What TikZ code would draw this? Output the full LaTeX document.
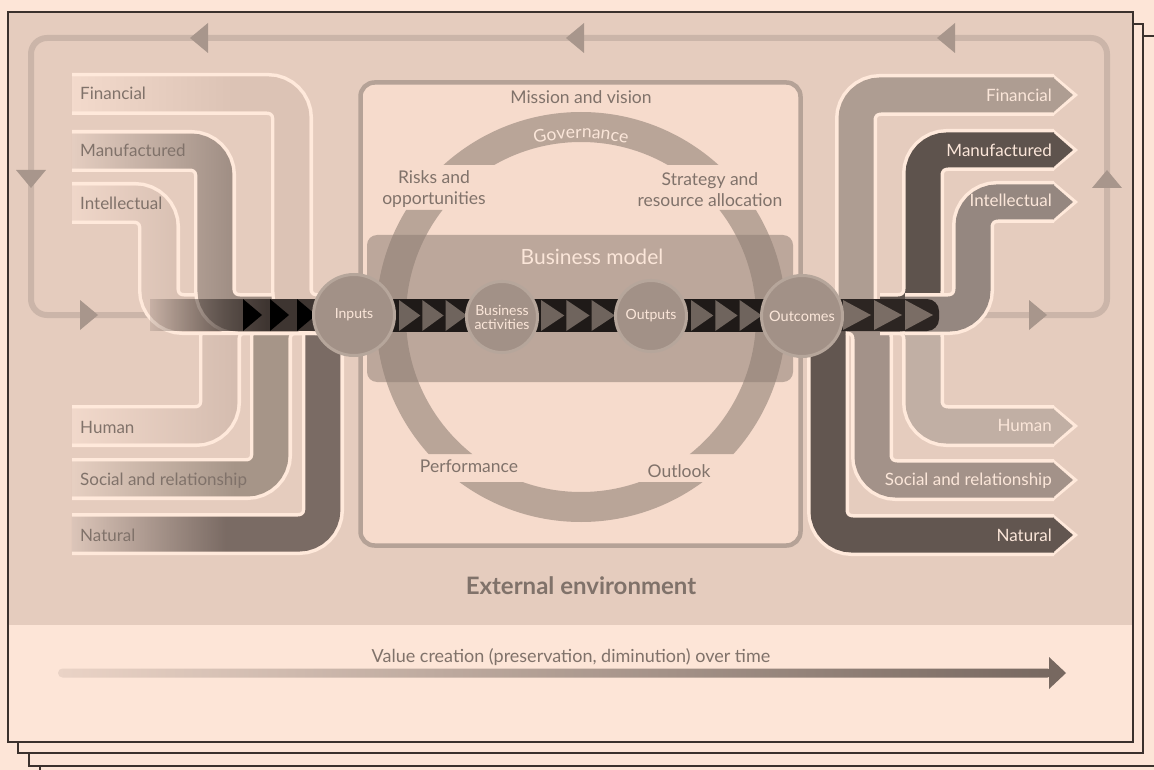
\documentclass[tikz,border=0pt]{standalone}
\usepackage{fontspec}
\setmainfont{Lato}
\usetikzlibrary{fadings,decorations.text}

\definecolor{paper}{HTML}{FDE5D7}
\definecolor{panel}{HTML}{E5CCBE}
\definecolor{edge}{HTML}{3B312D}
\definecolor{loopcol}{HTML}{CBB5A9}
\definecolor{looptip}{HTML}{A8968C}
\definecolor{boxfill}{HTML}{F6DBCC}
\definecolor{boxline}{HTML}{B5A297}
\definecolor{veil}{HTML}{8E7E74}
\definecolor{rimcol}{HTML}{FFE9DB}
\definecolor{flowlight}{HTML}{FAE1D3}
\definecolor{ink}{HTML}{80726A}
\definecolor{pale}{HTML}{FBE6D9}
\definecolor{stagefill}{HTML}{A29187}
\definecolor{stagehalo}{HTML}{B6A69B}
\definecolor{chain}{HTML}{1F1A18}
\definecolor{chaindark}{HTML}{2C2522}
\definecolor{chev}{HTML}{6F645D}
\definecolor{chevlight}{HTML}{7A6D65}
\definecolor{bandcol}{HTML}{3E3531}
\definecolor{finin}{HTML}{DCC3B5}
\definecolor{manuin}{HTML}{9E8D83}
\definecolor{intelin}{HTML}{CDB5A8}
\definecolor{humanin}{HTML}{D5BDB0}
\definecolor{socialin}{HTML}{A69588}
\definecolor{naturalin}{HTML}{7A6B64}
\definecolor{finout}{HTML}{AE9D92}
\definecolor{manout}{HTML}{5E534D}
\definecolor{intout}{HTML}{958780}
\definecolor{humout}{HTML}{C1AFA4}
\definecolor{socout}{HTML}{A39289}
\definecolor{natout}{HTML}{625650}
\definecolor{arrowpale}{HTML}{EAD3C6}
\definecolor{arrowdark}{HTML}{776860}

\pgfdeclarehorizontalshading{flowshade}{100bp}{color(0bp)=(black); color(20bp)=(black); color(55bp)=(white); color(100bp)=(white)}
\tikzfading[name=flowfade, shading=flowshade]

% capitals coming in: rim, light body, darkening towards the right
\newcommand\inflow[2]{%
  \draw[rim] #1;
  \draw[flow=flowlight] #1;
  \draw[flow=#2, path fading=flowfade] #1;}
% capitals going out, with a pointed end
\newcommand\outflow[3]{%
  \draw[rim] #1;
  \fill[rimcol] (1053,#2-21) -- (1078,#2) -- (1053,#2+21) -- cycle;
  \draw[flow=#3] #1;
  \fill[#3] (1053,#2-17.5) -- (1073,#2) -- (1053,#2+17.5) -- cycle;}

\begin{document}
\begin{tikzpicture}[x=1pt, y=-1pt,
    sheet/.style={fill=paper, draw=edge, line width=1.2pt},
    feedback/.style={draw=loopcol, line width=6pt, rounded corners=16pt},
    rim/.style={draw=rimcol, line width=42pt, rounded corners=24pt},
    flow/.style={draw=#1, line width=35pt, rounded corners=24pt},
    caplabel/.style={font=\fontsize{17}{18}\selectfont, inner sep=0pt},
    inlabel/.style={caplabel, text=ink, anchor=base west},
    outlabel/.style={caplabel, text=pale, anchor=base east},
    boxlabel/.style={font=\fontsize{17.5}{21}\selectfont, text=ink, align=center, inner sep=0pt},
    stage/.style={circle, fill=stagefill, draw=stagehalo, line width=3pt, text=pale,
      align=center, inner sep=0pt, font=\fontsize{14}{14}\selectfont}]
  \useasboundingbox (0,0) rectangle (1154,770);
  \fill[paper] (0,0) rectangle (1154,770);

  % stacked sheets
  \filldraw[sheet] (40,48) rectangle (1190,800);
  \filldraw[sheet] (29,36) rectangle (1170,766);
  \filldraw[sheet] (18,24) rectangle (1143,753);
  \filldraw[sheet] (8,12) rectangle (1133,742);
  \fill[panel] (8.6,12.6) rectangle (1132.4,625);

  % feedback loop
  \draw[feedback] (950,315) -- (1107,315) -- (1107,38) -- (31,38) -- (31,315) -- (165,315);
  \fill[looptip] (190,38) -- (208,23) -- (208,53) -- cycle;
  \fill[looptip] (566,38) -- (584,23) -- (584,53) -- cycle;
  \fill[looptip] (937,38) -- (955,23) -- (955,53) -- cycle;
  \fill[looptip] (31,188) -- (16,170) -- (46,170) -- cycle;
  \fill[looptip] (98,315) -- (80,300) -- (80,330) -- cycle;
  \fill[looptip] (1107,170) -- (1092,188) -- (1122,188) -- cycle;
  \fill[looptip] (1047,315) -- (1029,300) -- (1029,330) -- cycle;

  % organisation box and its ring
  \draw[line width=4.5pt, draw=boxline, fill=boxfill, rounded corners=14pt]
    (360.5,82.5) rectangle (800.5,545.5);
  \begin{scope}
    \clip (370,100) rectangle (795,165) (370,210) rectangle (795,454) (370,482) rectangle (795,530);
    \fill[veil, fill opacity=.58, even odd rule]
      (581,317) circle[radius=205] (581,317) circle[radius=175];
  \end{scope}
  \fill[veil, fill opacity=.55, rounded corners=10pt] (367,235) rectangle (793,382);
  \node[font=\fontsize{21}{21}\selectfont, text=pale, anchor=base, inner sep=0pt] (bm) at (592,265) {Business model};

  \node[boxlabel, anchor=base] (mission) at (581,104) {Mission and vision};
  \node[boxlabel] (risks) at (434,189) {Risks and\\opportunities};
  \node[boxlabel] (strategy) at (710,190) {Strategy and\\resource allocation};
  \node[boxlabel, anchor=base] (perf) at (469,472) {Performance};
  \node[boxlabel, anchor=base] (outlook) at (679,477) {Outlook};
  \path[decorate, decoration={text along path, text align=center,
      text={|\fontsize{17.5}{17.5}\selectfont\color{pale}|Governance}}]
    (581,317) ++(-118:179) arc[start angle=-118, end angle=-62, radius=179];

  % capitals in
  \inflow{(72,426) -- (220,426) -- (220,314) -- (340,314)}{humanin}
  \inflow{(72,479) -- (271,479) -- (271,314) -- (340,314)}{socialin}
  \inflow{(72,534) -- (323,534) -- (323,300)}{naturalin}
  \inflow{(72,203) -- (159,203) -- (159,314) -- (340,314)}{intelin}
  \inflow{(72,151) -- (215,151) -- (215,314) -- (340,314)}{manuin}
  \inflow{(72,94) -- (292,94) -- (292,314) -- (340,314)}{finin}

  % capitals out
  \outflow{(828,320) -- (828,535) -- (1054,535)}{535}{natout}
  \outflow{(848,314) -- (872,314) -- (872,480) -- (1054,480)}{480}{socout}
  \outflow{(856,322) -- (856,95) -- (1054,95)}{95}{finout}
  \outflow{(880,314) -- (923,314) -- (923,426) -- (1054,426)}{426}{humout}
  \outflow{(880,314) -- (923,314) -- (923,150) -- (1054,150)}{150}{manout}
  \outflow{(905,314) -- (973,314) -- (973,202) -- (1054,202)}{202}{intout}

  % value chain
  \coordinate (in) at (354,315);
  \coordinate (act) at (502,317);
  \coordinate (outp) at (651,316);
  \coordinate (outc) at (802,316);

  \fill[bandcol, path fading=flowfade] (150,299) rectangle (345,331);
  \foreach \x in {243,270,297}
    \fill[black] (\x,299) -- (\x+19,315) -- (\x,331) -- cycle;

  \fill[chain] ([yshift=16pt]in) rectangle ([yshift=-16pt]outc);
  \foreach \x/\w in {397/23.3, 420.3/23.3, 443.6/23.3, 539/25.3, 564.3/25.3, 589.6/25.3,
                     689/24.3, 713.3/24.3, 737.6/24.3}
    \fill[chev] (\x+2,300) -- (\x+\w,315.5) -- (\x+2,331) -- cycle;

  \fill[chaindark, rounded corners=12pt] (822,299) rectangle (939,331);
  \foreach \x in {843,874,905}
    \fill[chevlight] (\x,300) -- (\x+28,315) -- (\x,330) -- cycle;

  \node[stage, minimum size=81pt, font=\fontsize{14}{14}\selectfont] (inputs) at (in) {Inputs};
  \node[stage, minimum size=71pt, font=\fontsize{14}{14}\selectfont] (activities) at (act) {Business\\activities};
  \node[stage, minimum size=71pt] (outputs) at (outp) {Outputs};
  \node[stage, minimum size=81pt, font=\fontsize{14.5}{15}\selectfont] (outcomes) at (outc) {Outcomes};

  % labels of the capitals
  \node[inlabel] (fin-in) at (80,100) {Financial};
  \node[inlabel] (man-in) at (80,157) {Manufactured};
  \node[inlabel] (int-in) at (80,210) {Intellectual};
  \node[inlabel] (hum-in) at (80,433) {Human};
  \node[inlabel] (soc-in) at (80,485) {Social and relationship};
  \node[inlabel] (nat-in) at (80,541) {Natural};

  \node[outlabel] (fin-out) at (1052,102) {Financial};
  \node[outlabel] (man-out) at (1052,157) {Manufactured};
  \node[outlabel] (int-out) at (1052,207) {Intellectual};
  \node[outlabel] (hum-out) at (1052,431) {Human};
  \node[outlabel] (soc-out) at (1052,485) {Social and relationship};
  \node[outlabel] (nat-out) at (1052,541) {Natural};

  \node[font=\bfseries\fontsize{24}{24}\selectfont, text=ink, anchor=base, inner sep=0pt] (env) at (581,594) {External environment};

  % value over time
  \coordinate (tstart) at (58,673);
  \coordinate (tend) at (1066,673);
  \shade[left color=arrowpale, right color=arrowdark, rounded corners=4.5pt]
    ([yshift=4.5pt]tstart) rectangle ([xshift=-14pt,yshift=-4.5pt]tend);
  \fill[arrowdark] (tend) -- ++(-17,-16) -- ++(0,32) -- cycle;
  \node[font=\fontsize{18}{18}\selectfont, text=ink, anchor=base, inner sep=0pt] (time) at (571,662)
    {Value creation (preservation, diminution) over time};
\end{tikzpicture}
\end{document}
